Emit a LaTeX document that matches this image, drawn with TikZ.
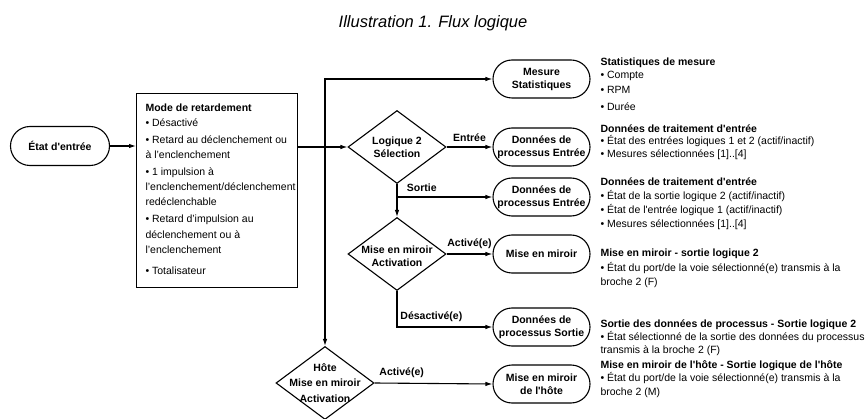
\documentclass[tikz,border=0pt]{standalone}
\usepackage{fontspec}
\setmainfont{Liberation Sans}[Ligatures=TeXOff]
\usetikzlibrary{shapes.geometric,shapes.misc,arrows.meta}

\begin{document}
\begin{tikzpicture}[x=1pt,y=-1pt,line width=1.1pt,font=\fontsize{10.5}{14}\selectfont]
    % `terminal' is used for the rounded boxes, `decision' for the diamonds.
    % `dtext' is the text put on a diamond, `info' the text on the right.
    % `branch' labels the branches, `flow' gives the arrow tip.
    \tikzstyle{terminal} = [draw,rounded rectangle,minimum width=97pt,minimum height=38pt,inner sep=0pt,align=center,font=\fontsize{10.5}{13}\selectfont\bfseries]
    \tikzstyle{decision} = [draw,diamond,minimum width=98pt,minimum height=73pt,inner sep=0pt]
    \tikzstyle{dtext} = [align=center,inner sep=0pt,font=\fontsize{10.5}{13.5}\selectfont\bfseries]
    \tikzstyle{info} = [anchor=north west,align=left,inner sep=0pt]
    \tikzstyle{branch} = [inner sep=0pt,font=\fontsize{10.5}{12}\selectfont\bfseries]
    \tikzstyle{flow} = [-{Latex[length=7pt,width=4.5pt]}]
    %
    \useasboundingbox (0,0) rectangle (866,419);
    \node[anchor=base] (title) at (433,28) {\fontsize{16.5}{18}\selectfont\itshape Illustration 1. Flux logique};

    % Left part.
    \node[terminal,minimum width=99pt,minimum height=39pt] (input) at (60,146) {État d'entrée};
    \node[draw,anchor=north west,minimum width=161pt,minimum height=194pt,inner sep=0pt] (delay) at (136,93) {};
    \node[info,font=\fontsize{10.5}{15.3}\selectfont] (delaytext) at (145,103) {%
      \textbf{Mode de retardement}\\
      • Désactivé\\[1.5pt]
      • Retard au déclenchement ou\\
      à l’enclenchement\\[1.5pt]
      • 1 impulsion à\\
      l’enclenchement/déclenchement\\
      redéclenchable\\[1.5pt]
      • Retard d’impulsion au\\
      déclenchement ou à\\
      l’enclenchement\\[6pt]
      • Totalisateur};

    % Decisions.
    \node[decision] (sel) at (397,147) {};
    \node[dtext] (seltext) at (sel) {Logique 2\\Sélection};
    \node[decision] (mirror) at (397,254) {};
    \node[dtext] (mirrortext) at (397,256) {Mise en miroir\\Activation};
    \node[decision] (host) at (325,383) {};
    \node[dtext,font=\fontsize{10.5}{15.5}\selectfont\bfseries] (hosttext) at (host) {Hôte\\Mise en miroir\\Activation};

    % Results.
    \node[terminal] (stats) at (541.5,79) {Mesure\\Statistiques};
    \node[terminal] (inA) at (541.5,147) {Données de\\processus Entrée};
    \node[terminal] (inB) at (541.5,197) {Données de\\processus Entrée};
    \node[terminal] (mir) at (541.5,254) {Mise en miroir};
    \node[terminal] (outS) at (541.5,327) {Données de\\processus Sortie};
    \node[terminal] (hmir) at (541.5,384) {Mise en miroir\\de l'hôte};

    % Text on the right.
    \node[info] (statsinfo) at (600,57) {\textbf{Statistiques de mesure}\\[-1pt]
      • Compte\\[1pt] • RPM\\[3pt] • Durée};
    \node[info] (inAinfo) at (600,124) {\textbf{Données de traitement d'entrée}\\[-1.5pt]
      • État des entrées logiques 1 et 2 (actif/inactif)\\[-1.5pt]
      • Mesures sélectionnées [1]..[4]};
    \node[info] (inBinfo) at (600,177) {\textbf{Données de traitement d'entrée}\\[0.5pt]
      • État de la sortie logique 2 (actif/inactif)\\
      • État de l'entrée logique 1 (actif/inactif)\\
      • Mesures sélectionnées [1]..[4]};
    \node[info] (mirinfo) at (600,248) {\textbf{Mise en miroir - sortie logique 2}\\[1.5pt]
      • État du port/de la voie sélectionné(e) transmis à la\\
      broche 2 (F)};
    \node[info] (outSinfo) at (600,319) {\textbf{Sortie des données de processus - Sortie logique 2}\\[-1pt]
      • État sélectionné de la sortie des données du processus\\[-1pt]
      transmis à la broche 2 (F)};
    \node[info] (hmirinfo) at (600,360) {\textbf{Mise en miroir de l'hôte - Sortie logique de l'hôte}\\[-0.5pt]
      • État du port/de la voie sélectionné(e) transmis à la\\[-0.5pt]
      broche 2 (M)};

    % Draw lines.
    \draw[flow] (input.east) -- (input.east -| delay.west);
    \draw[flow] (delay.east |- sel) -- (sel.west);
    \draw[{Latex[length=7pt,width=4.5pt]}-{Latex[length=7pt,width=4.5pt]}] (stats.west) -| (host.north);
    \draw[flow] (sel.east) -- node[branch,above=5pt] (lblin) {Entrée} (inA.west);
    \draw[flow] (sel.south) -- (mirror.north);
    \draw[flow] (sel.south |- inB) -- node[branch,pos=0.26,above=5pt] (lblout) {Sortie} (inB.west);
    \draw[flow] (mirror.east) -- node[branch,above=5pt] (lblon) {Activé(e)} (mir.west);
    \draw[flow] (mirror.south) |- node[branch,pos=0.68,above=5pt] (lbloff) {Désactivé(e)} (outS.west);
    \draw[flow] (host.east) -- node[branch,pos=0.23,above=5pt] (lblhost) {Activé(e)} (hmir.west);
\end{tikzpicture}
\end{document}
